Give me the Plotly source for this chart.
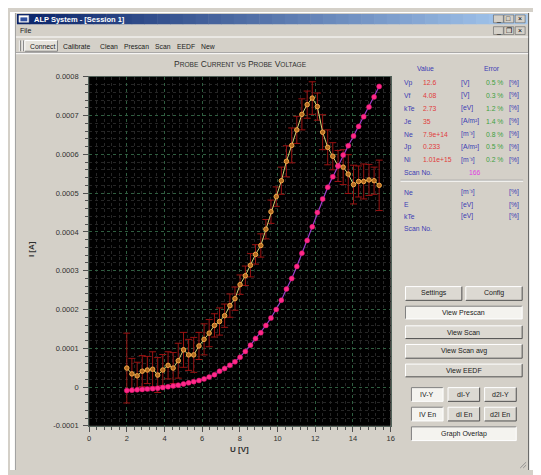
import plotly.graph_objects as go

# reference canvas is 541x475; the browser page adds an 8px body margin,
# so the figure is drawn 8px smaller and all pixel coordinates are shifted.
W, H = 541, 475
OX, OY = 8, 8
FW, FH = W - OX, H - OY

# ---------------- data ----------------
voltage_V = [2.00, 2.27, 2.55, 2.82, 3.09, 3.37, 3.64, 3.91, 4.19, 4.46,
             4.73, 5.01, 5.28, 5.55, 5.83, 6.10, 6.37, 6.65, 6.92, 7.19,
             7.47, 7.74, 8.01, 8.29, 8.56, 8.83, 9.11, 9.38, 9.65, 9.93,
             10.20, 10.47, 10.75, 11.02, 11.29, 11.57, 11.84, 12.11, 12.39, 12.66,
             12.93, 13.21, 13.48, 13.75, 14.03, 14.30, 14.57, 14.85, 15.12, 15.39]

scan_current_A = [0.49e-4, 0.34e-4, 0.29e-4, 0.41e-4, 0.44e-4, 0.46e-4, 0.31e-4, 0.44e-4, 0.56e-4, 0.49e-4,
                  0.68e-4, 0.96e-4, 0.83e-4, 0.83e-4, 1.06e-4, 1.23e-4, 1.39e-4, 1.59e-4, 1.69e-4, 1.84e-4,
                  2.10e-4, 2.28e-4, 2.64e-4, 2.87e-4, 3.14e-4, 3.42e-4, 3.65e-4, 4.07e-4, 4.52e-4, 4.91e-4,
                  5.32e-4, 5.82e-4, 6.23e-4, 6.63e-4, 7.03e-4, 7.28e-4, 7.45e-4, 7.23e-4, 6.57e-4, 6.18e-4,
                  5.95e-4, 5.70e-4, 5.67e-4, 5.49e-4, 5.22e-4, 5.30e-4, 5.30e-4, 5.34e-4, 5.32e-4, 5.20e-4]

scan_error_A = [0.90e-4, 0.40e-4, 0.35e-4, 0.40e-4, 0.35e-4, 0.45e-4, 0.45e-4, 0.40e-4, 0.35e-4, 0.40e-4,
                0.45e-4, 0.45e-4, 0.40e-4, 0.45e-4, 0.35e-4, 0.40e-4, 0.35e-4, 0.30e-4, 0.35e-4, 0.30e-4,
                0.30e-4, 0.30e-4, 0.25e-4, 0.25e-4, 0.30e-4, 0.25e-4, 0.30e-4, 0.25e-4, 0.30e-4, 0.25e-4,
                0.35e-4, 0.40e-4, 0.45e-4, 0.35e-4, 0.40e-4, 0.35e-4, 0.42e-4, 0.35e-4, 0.45e-4, 0.45e-4,
                0.35e-4, 0.40e-4, 0.45e-4, 0.50e-4, 0.50e-4, 0.40e-4, 0.45e-4, 0.40e-4, 0.35e-4, 0.65e-4]

prescan_current_A = [-0.09e-4, -0.08e-4, -0.07e-4, -0.06e-4, -0.05e-4, -0.04e-4, -0.03e-4, -0.01e-4, 0.01e-4, 0.03e-4,
                     0.05e-4, 0.08e-4, 0.11e-4, 0.14e-4, 0.17e-4, 0.21e-4, 0.26e-4, 0.32e-4, 0.41e-4, 0.48e-4,
                     0.56e-4, 0.65e-4, 0.77e-4, 0.92e-4, 1.08e-4, 1.25e-4, 1.40e-4, 1.59e-4, 1.78e-4, 2.00e-4,
                     2.24e-4, 2.53e-4, 2.80e-4, 3.11e-4, 3.45e-4, 3.78e-4, 4.13e-4, 4.50e-4, 4.85e-4, 5.15e-4,
                     5.42e-4, 5.70e-4, 5.98e-4, 6.22e-4, 6.47e-4, 6.72e-4, 6.97e-4, 7.22e-4, 7.48e-4, 7.75e-4]

x_tick_vals = [0, 2, 4, 6, 8, 10, 12, 14, 16]
y_tick_vals = [-0.0001, 0, 0.0001, 0.0002, 0.0003, 0.0004, 0.0005, 0.0006, 0.0007, 0.0008]
y_tick_text = ["-0.0001", "0", "0.0001", "0.0002", "0.0003", "0.0004", "0.0005", "0.0006", "0.0007", "0.0008"]

param_labels = ["Vp", "Vf", "kTe", "Je", "Ne", "Jp", "Ni"]
param_values = ["12.6", "4.08", "2.73", "35", "7.9e+14", "0.233", "1.01e+15"]
param_units = ["[V]", "[V]", "[eV]", "[A/m²]", "[m⁻³]", "[A/m²]", "[m⁻³]"]
param_errors = ["0.5 %", "0.3 %", "1.2 %", "1.4 %", "0.8 %", "0.5 %", "0.2 %"]
scan_number = "166"
eedf_labels = ["Ne", "E", "kTe"]
eedf_units = ["[m⁻³]", "[eV]", "[eV]"]
toolbar_items = ["Connect", "Calibrate", "Clean", "Prescan", "Scan", "EEDF", "New"]
window_title = "ALP System - [Session 1]"

FONT = "Liberation Sans, Arial, sans-serif"
GRAY = "#d4d0c8"

shapes = []
annotations = []


def fx(x):
    return (x - OX) / FW


def fy(y):
    return 1 - (y - OY) / FH


def rect(x0, y0, x1, y1, fill, line=None, lw=0):
    shapes.append(dict(type="rect", xref="paper", yref="paper",
                       x0=fx(x0), x1=fx(x1), y0=fy(y1), y1=fy(y0),
                       fillcolor=fill, line=dict(color=line or fill, width=lw)))


def seg(x0, y0, x1, y1, color, w=1):
    shapes.append(dict(type="line", xref="paper", yref="paper",
                       x0=fx(x0), x1=fx(x1), y0=fy(y0), y1=fy(y1),
                       line=dict(color=color, width=w)))


def text(x, y, s, color="#202020", size=7, xanchor="left", bold=False, family=FONT):
    if bold:
        s = "<b>" + s + "</b>"
    annotations.append(dict(x=fx(x), y=fy(y), xref="paper", yref="paper", text=s,
                            showarrow=False, xanchor=xanchor, yanchor="middle",
                            font=dict(family=family, size=size, color=color)))


def button(x0, y0, x1, y1, label, pressed=False):
    if pressed:
        rect(x0, y0, x1, y1, "#f4f3ef")
        seg(x0, y0, x1, y0, "#808080")
        seg(x0, y0, x0, y1, "#808080")
        seg(x0, y1, x1, y1, "#ffffff")
        seg(x1, y0, x1, y1, "#ffffff")
    else:
        rect(x0, y0, x1, y1, "#dcd9d2")
        seg(x0, y0, x1, y0, "#ffffff")
        seg(x0, y0, x0, y1, "#ffffff")
        seg(x0, y1, x1, y1, "#505050")
        seg(x1, y0, x1, y1, "#505050")
    text((x0 + x1) / 2, (y0 + y1) / 2, label, "#202020", 7, xanchor="center")


# ---------------- window chrome ----------------
rect(OX, OY, 13, H, "#ffffff")
rect(OX, OY, W, 9, "#ffffff")
rect(533, OY, W, H, "#ffffff")
seg(13.5, 9, 13.5, H, "#a0a0a0")
seg(532.5, 9, 532.5, H, "#606060")

# title bar gradient
c0 = (10, 36, 106)
c1 = (166, 202, 240)
n = 40
tx0, tx1 = 15, 531
for i in range(n):
    t = i / (n - 1)
    col = "rgb(%d,%d,%d)" % tuple(int(c0[k] + (c1[k] - c0[k]) * t) for k in range(3))
    xa = tx0 + (tx1 - tx0) * i / n
    xb = tx0 + (tx1 - tx0) * (i + 1) / n + 0.5
    rect(xa, 10, xb, 20.5, col)
rect(17, 11.5, 27, 18.5, "#ffffff", "#c0c0c0", 0.5)
rect(18.5, 13.5, 25.5, 17.5, "#3050a0")
text(30, 15.2, window_title, "#ffffff", 7.5, bold=True)

# title/menu small buttons
for yy in (11, 23):
    for (bx, g) in ((497, "_"), (507.5, "□" if yy == 11 else "❐"), (519, "×")):
        rect(bx, yy, bx + 10, yy + 8, "#d4d0c8", "#606060", 0.6)
        text(bx + 5, yy + 4, g, "#000000", 7, xanchor="center")

text(16, 27, "File", "#202020", 7)
seg(14, 33.5, 532, 33.5, "#ffffff")

# toolbar
seg(17.5, 37, 17.5, 48, "#ffffff")
seg(18.5, 37, 18.5, 48, "#808080")
seg(20.5, 37, 20.5, 48, "#ffffff")
seg(21.5, 37, 21.5, 48, "#808080")
rect(23, 37, 56, 48, "#e6e3dc")
seg(23, 37, 56, 37, "#ffffff")
seg(23, 37, 23, 48, "#ffffff")
seg(23, 48, 56, 48, "#808080")
seg(56, 37, 56, 48, "#808080")
tool_x = [26, 60, 97, 121, 153, 175, 199]
for tx, item in zip(tool_x, toolbar_items):
    text(tx, 43, item, "#202020", 6.8)
seg(14, 49.5, 532, 49.5, "#a0a0a0")
seg(14, 50.5, 532, 50.5, "#ffffff")

# resize grip
for k in range(3):
    seg(524 + 3 * k, 473, 530, 467 + 3 * k, "#808080", 0.8)

# ---------------- chart title & axis titles ----------------
cap = '<span style="font-size:8.5px">%s</span>'
sml = '<span style="font-size:6.6px">%s</span>'
title_html = (cap % "P" + sml % "ROBE" + " " + cap % "C" + sml % "URRENT" + " " + sml % "VS" + " "
              + cap % "P" + sml % "ROBE" + " " + cap % "V" + sml % "OLTAGE")
text(241, 61, title_html, "#303030", 8.5, xanchor="center")
text(240, 454, "U [V]", "#303030", 8, xanchor="center", bold=True)
annotations.append(dict(x=fx(30), y=fy(250), xref="paper", yref="paper", text="<b>I [A]</b>",
                        showarrow=False, textangle=-90, xanchor="center", yanchor="middle",
                        font=dict(family=FONT, size=8, color="#303030")))

# ---------------- right info panel ----------------
BLUE = "#3c3cb4"
RED = "#e03c3c"
GREEN = "#40a040"
MAG = "#e040e0"
text(428, 66, "Value", BLUE, 6.8, xanchor="center")
text(495, 66, "Error", BLUE, 6.8, xanchor="center")
rows_y = [80, 93, 106, 119.5, 132.5, 145.5, 158.5]
for yy, lab, val, unit, err in zip(rows_y, param_labels, param_values, param_units, param_errors):
    text(404, yy, lab, BLUE, 6.8)
    text(424, yy, val, RED, 6.8)
    text(462, yy, unit, BLUE, 6.8)
    text(487, yy, err, GREEN, 6.8)
    text(511, yy, "[%]", BLUE, 6.8)
text(404, 171.5, "Scan No.", BLUE, 6.8)
text(470, 171.5, scan_number, MAG, 6.8)
seg(403, 179.5, 527, 179.5, "#a0a0a0")
seg(403, 180.5, 527, 180.5, "#ffffff")
rows2 = [192, 204.5, 216.5]
for yy, lab, unit in zip(rows2, eedf_labels, eedf_units):
    text(404, yy, lab, BLUE, 6.8)
    text(462, yy, unit, BLUE, 6.8)
    text(511, yy, "[%]", BLUE, 6.8)
text(404, 229, "Scan No.", BLUE, 6.8)

# buttons
button(408, 288, 465, 302, "Settings")
button(469, 288, 526, 302, "Config")
button(408, 308, 526, 321, "View Prescan", pressed=True)
button(408, 328, 526, 341, "View Scan")
button(408, 347, 526, 361, "View Scan avg")
button(408, 367, 526, 380, "View EEDF")
button(414, 391, 446, 405, "IV-Y", pressed=True)
button(451, 391, 483, 405, "dI-Y")
button(488, 391, 520, 405, "d2I-Y")
button(414, 411, 446, 425, "IV En", pressed=True)
button(451, 411, 483, 425, "dI En")
button(488, 411, 520, 425, "d2I En")
button(414, 431, 520, 445, "Graph Overlap", pressed=True)

# ---------------- traces ----------------
fig = go.Figure()
fig.add_trace(go.Scatter(
    x=voltage_V, y=scan_current_A, mode="lines+markers",
    line=dict(color="#d6d276", width=1),
    marker=dict(size=4.5, color="#b06a20", line=dict(color="#f4a848", width=1)),
    error_y=dict(type="data", array=scan_error_A, color="#9a1212", thickness=1, width=3.5),
    hoverinfo="skip"))
fig.add_trace(go.Scatter(
    x=voltage_V, y=prescan_current_A, mode="lines+markers",
    line=dict(color="#9a3cc8", width=1.2),
    marker=dict(size=5, color="#ff2a88", line=dict(color="#e01070", width=0.5)),
    hoverinfo="skip"))

x0p, x1p = 88, 393
ytop, ybot = 74, 430
fig.update_layout(
    width=FW, height=FH, autosize=False,
    margin=dict(l=0, r=0, t=0, b=0),
    paper_bgcolor=GRAY, plot_bgcolor="#000000",
    showlegend=False,
    font=dict(family=FONT, size=7.5, color="#303030"),
    shapes=shapes, annotations=annotations,
    xaxis=dict(domain=[fx(x0p), fx(x1p)], range=[0, 16], tickvals=x_tick_vals,
               ticks="outside", ticklen=5, tickcolor="#505050", tickwidth=1,
               tickfont=dict(size=7.5, color="#303030"),
               showgrid=True, gridcolor="#2f5e40", griddash="dot", gridwidth=1,
               zeroline=False, showline=True, linecolor="#506058", mirror=True,
               minor=dict(dtick=0.4, tick0=0, ticks="outside", ticklen=3, tickcolor="#505050",
                          showgrid=True, gridcolor="#262626", griddash="dot")),
    yaxis=dict(domain=[fy(ybot), fy(ytop)], range=[-0.0001, 0.0008],
               tickvals=y_tick_vals, ticktext=y_tick_text,
               ticks="outside", ticklen=5, tickcolor="#505050", tickwidth=1,
               ticklabelstandoff=3,
               tickfont=dict(size=7.5, color="#303030"),
               showgrid=True, gridcolor="#2f5e40", griddash="dot", gridwidth=1,
               zeroline=False, showline=True, linecolor="#506058", mirror=True,
               minor=dict(dtick=0.00002, tick0=0, ticks="outside", ticklen=3, tickcolor="#505050",
                          showgrid=True, gridcolor="#262626", griddash="dot")),
)

fig.write_html("out.html")
